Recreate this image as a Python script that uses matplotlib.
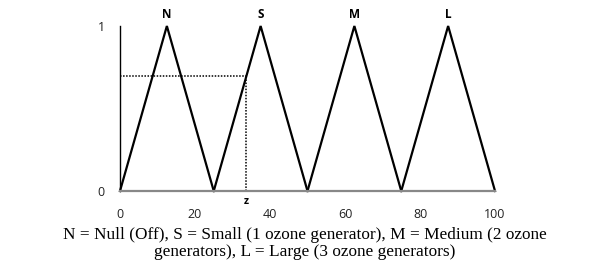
import matplotlib
matplotlib.use('Agg')
import matplotlib.pyplot as plt

# Fuzzy sets (triangular membership functions)
set_names = ['N', 'S', 'M', 'L']
starts = [0, 25, 50, 75]
peaks = [12.5, 37.5, 62.5, 87.5]
ends = [25, 50, 75, 100]

z_value = 33.6
z_membership = 0.7

x_ticks = [0, 20, 40, 60, 80, 100]
y_ticks = [0, 1]
caption = ('N = Null (Off), S = Small (1 ozone generator), M = Medium (2 ozone\n'
           'generators), L = Large (3 ozone generators)')

fig = plt.figure(figsize=(6.1, 2.64), dpi=100)
ax = fig.add_axes([0.1967, 0.2765, 0.6148, 0.625])

for name, a, b, c in zip(set_names, starts, peaks, ends):
    ax.plot([a, b, c], [0, 1, 0], color='black', linewidth=1.6, solid_joinstyle='miter')
    ax.text(b, 1.03, name, ha='center', va='bottom', fontsize=8.5,
            fontweight='bold', family='Open Sans')

# dotted guide lines for z
ax.plot([0, z_value], [z_membership, z_membership], color='black', linestyle=(0, (1, 1)), linewidth=1.1)
ax.plot([z_value, z_value], [0, z_membership], color='black', linestyle=(0, (1, 1)), linewidth=1.1)
ax.text(z_value, -0.03, 'z', ha='center', va='top', fontsize=7.5,
        fontweight='bold', family='Open Sans')

ax.set_xlim(0, 100)
ax.set_ylim(0, 1)
ax.set_xticks(x_ticks)
ax.set_yticks(y_ticks)
ax.tick_params(length=0, labelsize=9)
ax.tick_params(axis='x', pad=12)
ax.tick_params(axis='y', pad=11)
for lbl in ax.get_xticklabels() + ax.get_yticklabels():
    lbl.set_family('Open Sans')
    lbl.set_color('#222222')

ax.spines['top'].set_visible(False)
ax.spines['right'].set_visible(False)
ax.spines['left'].set_color('black')
ax.spines['left'].set_linewidth(1.0)
ax.spines['bottom'].set_color('#888888')
ax.spines['bottom'].set_linewidth(1.6)
ax.patch.set_visible(False)
for line in ax.lines:
    line.set_clip_on(False)

fig.text(0.5, 0.015, caption, ha='center', va='bottom', fontsize=12.4,
         family='Liberation Serif', linespacing=1.12)

plt.savefig('out.png', dpi=100)
